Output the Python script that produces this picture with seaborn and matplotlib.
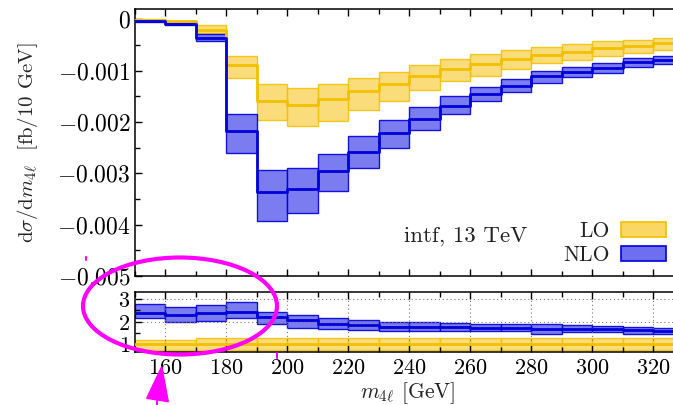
import numpy as np
import pandas as pd
import seaborn as sns
import matplotlib
matplotlib.use("Agg")
import matplotlib.pyplot as plt
from matplotlib.patches import Ellipse, Polygon, Patch
from matplotlib.lines import Line2D
from matplotlib.ticker import MultipleLocator, FuncFormatter

# ---- binned m4l distribution (10 GeV bins) ----
edges = [150, 160, 170, 180, 190, 200, 210, 220, 230, 240, 250, 260, 270, 280,
         290, 300, 310, 320, 330]

lo_c = [-0.00001, -0.00004, -0.00020, -0.00090, -0.00160, -0.00167, -0.00156,
        -0.00140, -0.00126, -0.00110, -0.00097, -0.00087, -0.00078, -0.00069,
        -0.00063, -0.00056, -0.00052, -0.00047]
lo_hi = [0.00000, -0.00003, -0.00012, -0.00072, -0.00127, -0.00134, -0.00127,
         -0.00114, -0.00102, -0.00089, -0.00078, -0.00067, -0.00060, -0.00054,
         -0.00048, -0.00043, -0.00040, -0.00037]
lo_lo = [-0.00002, -0.00006, -0.00027, -0.00114, -0.00197, -0.00208, -0.00198,
         -0.00177, -0.00160, -0.00138, -0.00121, -0.00110, -0.00097, -0.00085,
         -0.00079, -0.00071, -0.00065, -0.00059]

nlo_c = [-0.00003, -0.00010, -0.00036, -0.00218, -0.00337, -0.00331, -0.00295,
         -0.00259, -0.00222, -0.00194, -0.00168, -0.00145, -0.00129, -0.00111,
         -0.00102, -0.00095, -0.00084, -0.00079]
nlo_hi = [-0.00002, -0.00008, -0.00029, -0.00185, -0.00293, -0.00289, -0.00263,
          -0.00228, -0.00197, -0.00171, -0.00150, -0.00132, -0.00116, -0.00100,
          -0.00092, -0.00085, -0.00076, -0.00071]
nlo_lo = [-0.00005, -0.00012, -0.00042, -0.00260, -0.00393, -0.00377, -0.00334,
          -0.00290, -0.00250, -0.00216, -0.00185, -0.00160, -0.00142, -0.00124,
          -0.00113, -0.00105, -0.00092, -0.00087]

# ---- ratio to LO ----
rlo_c = [1.0] * 18
rlo_hi = [1.20, 1.20, 1.26, 1.26, 1.26, 1.26, 1.26, 1.26, 1.26, 1.26, 1.26,
          1.26, 1.26, 1.26, 1.26, 1.26, 1.26, 1.26]
rlo_lo = [0.75] * 18

rnlo_c = [2.41, 2.32, 2.41, 2.44, 2.22, 2.07, 1.88, 1.85, 1.78, 1.78, 1.75,
          1.73, 1.73, 1.67, 1.70, 1.67, 1.63, 1.59]
rnlo_hi = [2.81, 2.66, 2.76, 2.88, 2.44, 2.32, 2.15, 2.07, 1.97, 1.97, 1.93,
           1.88, 1.88, 1.88, 1.85, 1.82, 1.78, 1.73]
rnlo_lo = [2.15, 2.00, 2.03, 2.15, 1.88, 1.73, 1.70, 1.63, 1.59, 1.59, 1.59,
           1.59, 1.59, 1.48, 1.56, 1.56, 1.48, 1.44]

y_ticks = [-0.005, -0.004, -0.003, -0.002, -0.001, 0.0]
r_ticks = [1, 2, 3]
x_ticks = [160, 180, 200, 220, 240, 260, 280, 300, 320]

# ---- style ----
sns.set_theme(style="ticks")
plt.rcParams.update({
    "font.family": "serif",
    "font.serif": ["cmr10", "DejaVu Serif"],
    "mathtext.fontset": "cm",
    "axes.formatter.use_mathtext": True,
    "axes.linewidth": 1.1,
    "axes.edgecolor": "black",
    "xtick.color": "black",
    "ytick.color": "black",
    "text.color": "#222222",
})

LO_FILL, LO_EDGE = "#FAD663", "#F2C000"
NLO_FILL, NLO_EDGE = "#6E6EF0", "#0000D8"

W, H = 673, 405
fig = plt.figure(figsize=(W / 100, H / 100), dpi=100)
left, right = 134.5, 683.5
ax1 = fig.add_axes([left / W, (H - 276) / H, (right - left) / W, (276 - 9) / H])
ax2 = fig.add_axes([left / W, (H - 352) / H, (right - left) / W, (352 - 292) / H])

x0 = np.array(edges[:-1])
width = np.diff(edges)


def draw_band(ax, lo, hi, c, fill, edge):
    lo = np.array(lo); hi = np.array(hi)
    ax.bar(x0, hi - lo, bottom=lo, width=width, align="edge", color=fill,
           alpha=0.85 if fill == LO_FILL else 0.9, edgecolor=edge,
           linewidth=1.0, zorder=2)
    df = pd.DataFrame({"x": edges, "y": list(c) + [c[-1]]})
    sns.lineplot(data=df, x="x", y="y", ax=ax, color=edge, linewidth=2.0,
                 drawstyle="steps-post", zorder=3, legend=False)


draw_band(ax1, lo_lo, lo_hi, lo_c, LO_FILL, LO_EDGE)
draw_band(ax1, nlo_lo, nlo_hi, nlo_c, NLO_FILL, NLO_EDGE)
draw_band(ax2, rlo_lo, rlo_hi, rlo_c, LO_FILL, LO_EDGE)
draw_band(ax2, rnlo_lo, rnlo_hi, rnlo_c, NLO_FILL, NLO_EDGE)

# ---- axes ----
ax1.set_xlim(150, 330)
ax1.set_ylim(-0.005, 0.0002)
ax2.set_xlim(150, 330)
ax2.set_ylim(0.66, 3.32)

for ax in (ax1, ax2):
    ax.xaxis.set_major_locator(MultipleLocator(20))
    ax.xaxis.set_minor_locator(MultipleLocator(10))
    ax.tick_params(which="both", direction="in", top=True, right=True,
                   width=1.0, labelsize=16)
    ax.tick_params(which="major", length=5)
    ax.tick_params(which="minor", length=3.5)
    ax.set_xlabel("")
    ax.set_ylabel("")

ax1.set_yticks(y_ticks)
ax1.yaxis.set_minor_locator(MultipleLocator(0.0005))
ax1.yaxis.set_major_formatter(FuncFormatter(
    lambda v, p: "$0$" if abs(v) < 1e-9 else f"${v:.3f}$"))
ax1.tick_params(axis="x", labelbottom=False)
ax1.tick_params(axis="y", pad=3, labelsize=17)

ax2.set_yticks(r_ticks)
ax2.yaxis.set_minor_locator(MultipleLocator(0.5))
ax2.yaxis.set_major_formatter(FuncFormatter(lambda v, p: f"${v:.0f}$"))
ax2.set_xticks(x_ticks)
ax2.xaxis.set_major_formatter(FuncFormatter(lambda v, p: f"${v:.0f}$"))
ax2.tick_params(axis="x", pad=5)
ax2.tick_params(axis="y", pad=3)
ax2.grid(True, which="major", linestyle=(0, (1, 2.5)), color="#777777",
         linewidth=0.8)
ax2.set_axisbelow(False)

ax1.set_ylabel(r"$\mathrm{d}\sigma/\mathrm{d}m_{4\ell}$  [fb/10 GeV]",
               fontsize=15, labelpad=12)
fig.text(408 / W, 1 - 393 / H, r"$m_{4\ell}$ [GeV]", fontsize=15.5,
         ha="center", va="center")

ax1.text(258.5, -0.00422, "intf, 13 TeV", fontsize=16.5, ha="center",
         va="center")

handles = [Patch(facecolor=LO_FILL, edgecolor=LO_EDGE, linewidth=1.2),
           Patch(facecolor=NLO_FILL, edgecolor=NLO_EDGE, linewidth=1.2)]
ax1.legend(handles, ["LO", "NLO"], loc="lower right",
           bbox_to_anchor=(0.968, 0.04), frameon=False, markerfirst=False,
           fontsize=15.5, handlelength=2.1, handleheight=0.7,
           handletextpad=0.5, labelspacing=0.2, borderpad=0,
           borderaxespad=0)

# ---- highlight ----
fig.add_artist(Ellipse((180 / W, 1 - 306 / H), 194 / W, 97 / H,
                       transform=fig.transFigure, fill=False,
                       edgecolor="#FF00FF", linewidth=3.0, zorder=10))
tri = [(161.7, 366.7), (146.7, 398.3), (168.3, 401.7)]
fig.add_artist(Polygon([(x / W, 1 - y / H) for x, y in tri], closed=True,
                       transform=fig.transFigure, facecolor="#FF00FF",
                       edgecolor="#FF00FF", zorder=10))
for (xa, ya, yb) in [(157, 401, 405), (85.5, 256.5, 260), (276.7, 353, 358)]:
    fig.add_artist(Line2D([xa / W, xa / W], [1 - ya / H, 1 - yb / H],
                          transform=fig.transFigure, color="#FF00FF",
                          linewidth=1.5, zorder=10))

fig.savefig("out.png", dpi=100)
